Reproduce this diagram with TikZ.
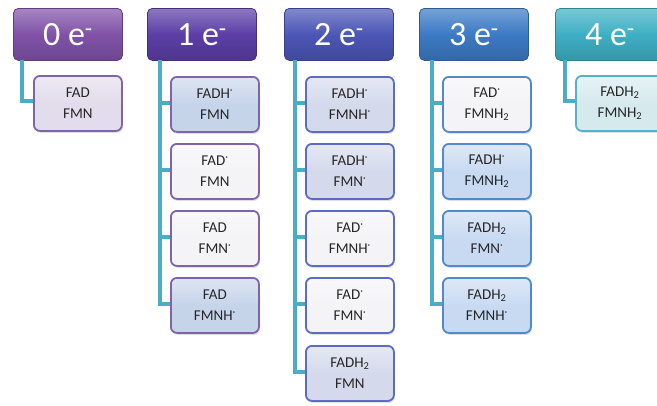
\documentclass[tikz,border=0pt]{standalone}
\usepackage{fontspec}
\setmainfont{Carlito}
\usetikzlibrary{calc,shadows}
\definecolor{hA}{RGB}{128,82,168}
\definecolor{hB}{RGB}{92,62,166}
\definecolor{hC}{RGB}{76,86,182}
\definecolor{hD}{RGB}{60,122,196}
\definecolor{hE}{RGB}{62,176,196}
\definecolor{bA}{RGB}{128,100,170}
\definecolor{bC}{RGB}{92,108,196}
\definecolor{bD}{RGB}{78,138,204}
\definecolor{bE}{RGB}{84,178,200}
\definecolor{fLav}{RGB}{226,220,236}
\definecolor{fBlue}{RGB}{198,212,234}
\definecolor{fGrey}{RGB}{244,244,246}
\definecolor{fSlate}{RGB}{212,218,236}
\definecolor{fSky}{RGB}{200,218,242}
\definecolor{fTeal}{RGB}{214,234,238}
\definecolor{conncol}{RGB}{75,172,198}
\tikzset{
  hdr/.style={rounded corners=5pt, minimum width=109pt, minimum height=52pt,
    anchor=north west, inner sep=0pt, text=white,
    font=\fontsize{34}{36}\selectfont,
    draw=#1!75!black, line width=0.8pt,
    top color=#1!70!white, bottom color=#1!85!black, middle color=#1},
  chld/.style 2 args={rounded corners=6pt, minimum width=88pt, minimum height=55pt,
    anchor=north west, inner sep=0pt, align=center,
    font=\fontsize{15}{21}\selectfont, text=black!85,
    draw=#1, line width=1.8pt,
    top color=#2!60!white, bottom color=#2, middle color=#2,
    drop shadow={shadow xshift=1pt, shadow yshift=-2pt, opacity=0.25}},
  conn/.style={draw=conncol, line width=4pt}
}
\newcommand{\rad}{\textsuperscript{·}}
\begin{document}
\begin{tikzpicture}[x=1pt,y=-1pt]
\useasboundingbox (0,0) rectangle (657,405);
\clip (0,0) rectangle (657,405);
% headers
\node[hdr=hA] (h0) at (13,8) {0 e\textsuperscript{-}};
\node[hdr=hB] (h1) at (147,8) {1 e\textsuperscript{-}};
\node[hdr=hC] (h2) at (284,8) {2 e\textsuperscript{-}};
\node[hdr=hD] (h3) at (419,8) {3 e\textsuperscript{-}};
\node[hdr=hE] (h4) at (555,8) {4 e\textsuperscript{-}};
% column 0
\coordinate (v0) at (22,60);
\draw[conn] (v0) |- (34,101);
\node[chld={bA}{fLav}] (c0a) at (33,75) {FAD\\FMN};
% column 1
\coordinate (v1) at (160,60);
\foreach \y in {103,170,237,304} {\draw[conn] (v1) |- (171,\y);}
\node[chld={bA}{fBlue}] (c1a) at (170,76) {FADH\rad\\FMN};
\node[chld={bA}{fGrey}] (c1b) at (170,143) {FAD\rad\\FMN};
\node[chld={bA}{fGrey}] (c1c) at (170,210) {FAD\\FMN\rad};
\node[chld={bA}{fBlue}] (c1d) at (170,277) {FAD\\FMNH\rad};
% column 2
\coordinate (v2) at (295,60);
\foreach \y in {103,170,237,304,372} {\draw[conn] (v2) |- (306,\y);}
\node[chld={bC}{fSlate}] (c2a) at (305,76) {FADH\rad\\FMNH\rad};
\node[chld={bC}{fSlate}] (c2b) at (305,143) {FADH\rad\\FMN\rad};
\node[chld={bC}{fGrey}] (c2c) at (305,210) {FAD\rad\\FMNH\rad};
\node[chld={bC}{fGrey}] (c2d) at (305,277) {FAD\rad\\FMN\rad};
\node[chld={bC}{fSlate}] (c2e) at (305,345) {FADH\textsubscript{2}\\FMN};
% column 3
\coordinate (v3) at (432,60);
\foreach \y in {103,170,237,304} {\draw[conn] (v3) |- (443,\y);}
\node[chld={bD}{fGrey}] (c3a) at (442,76) {FAD\rad\\FMNH\textsubscript{2}};
\node[chld={bD}{fSky}] (c3b) at (442,143) {FADH\rad\\FMNH\textsubscript{2}};
\node[chld={bD}{fSky}] (c3c) at (442,210) {FADH\textsubscript{2}\\FMN\rad};
\node[chld={bD}{fSky}] (c3d) at (442,277) {FADH\textsubscript{2}\\FMNH\rad};
% column 4
\coordinate (v4) at (565,60);
\draw[conn] (v4) |- (577,101);
\node[chld={bE}{fTeal}] (c4a) at (575,75) {FADH\textsubscript{2}\\FMNH\textsubscript{2}};
\end{tikzpicture}
\end{document}
